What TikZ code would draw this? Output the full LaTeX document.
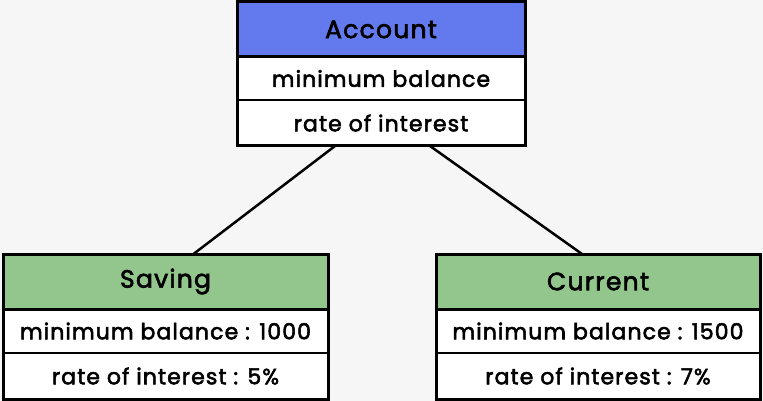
\documentclass[tikz,border=0pt]{standalone}
\usepackage{fontspec}
\newfontfamily\boxfont{Poppins}[FakeBold=2.5, LetterSpace=5]
\usetikzlibrary{positioning}
\definecolor{headblue}{RGB}{98, 122, 238}
\definecolor{headgreen}{RGB}{147, 198, 140}
\definecolor{paper}{RGB}{246, 246, 246}

\begin{document}
\begin{tikzpicture}[x=1pt, y=-1pt,
    head/.style={draw, line width=3pt, fill=#1, minimum height=55pt, inner sep=0pt,
      outer sep=0pt, font=\boxfont\fontsize{25}{28}\selectfont},
    row/.style={fill=white, minimum height=44pt, inner sep=0pt, outer sep=0pt,
      font=\boxfont\fontsize{22}{24}\selectfont},
    box/.style={draw, line width=3pt},
    link/.style={draw, line width=2.5pt}]
  \fill[paper] (0,0) rectangle (763,401);
  % Top: parent class
  \node[head=headblue, minimum width=288pt, anchor=north] (acc) at (381,2) {Account};
  \node[row, minimum width=288pt, minimum height=43pt, below=0pt of acc] (accmin) {minimum balance};
  \node[row, minimum width=288pt, minimum height=46pt, below=0pt of accmin] (accrate) {rate of interest\hspace{20pt}};
  \draw[line width=1.5pt] (accmin.south west) -- (accmin.south east);
  \draw[box] (acc.south west) -- (acc.south east);
  \draw[box] (acc.north west) rectangle (accrate.south east);
  % Left: saving class
  \node[head=headgreen, minimum width=325pt, anchor=north] (sav) at (165.5,254) {Saving};
  \node[row, minimum width=325pt, below=0pt of sav] (savmin) {minimum balance : 1000};
  \node[row, minimum width=325pt, minimum height=46pt, below=0pt of savmin] (savrate) {rate of interest : 5\%};
  \draw[line width=1.5pt] (savmin.south west) -- (savmin.south east);
  \draw[box] (sav.south west) -- (sav.south east);
  \draw[box] (sav.north west) rectangle (savrate.south east);
  % Right: current class
  \node[head=headgreen, minimum width=324pt, anchor=north] (cur) at (598,254) {Current};
  \node[row, minimum width=324pt, below=0pt of cur] (curmin) {minimum balance : 1500};
  \node[row, minimum width=324pt, minimum height=46pt, below=0pt of curmin] (currate) {rate of interest : 7\%};
  \draw[line width=1.5pt] (curmin.south west) -- (curmin.south east);
  \draw[box] (cur.south west) -- (cur.south east);
  \draw[box] (cur.north west) rectangle (currate.south east);
  % links
  \draw[link] ([xshift=-46pt]accrate.south) -- ([xshift=28pt]sav.north);
  \draw[link] ([xshift=49pt]accrate.south) -- ([xshift=-16pt]cur.north);
\end{tikzpicture}
\end{document}
